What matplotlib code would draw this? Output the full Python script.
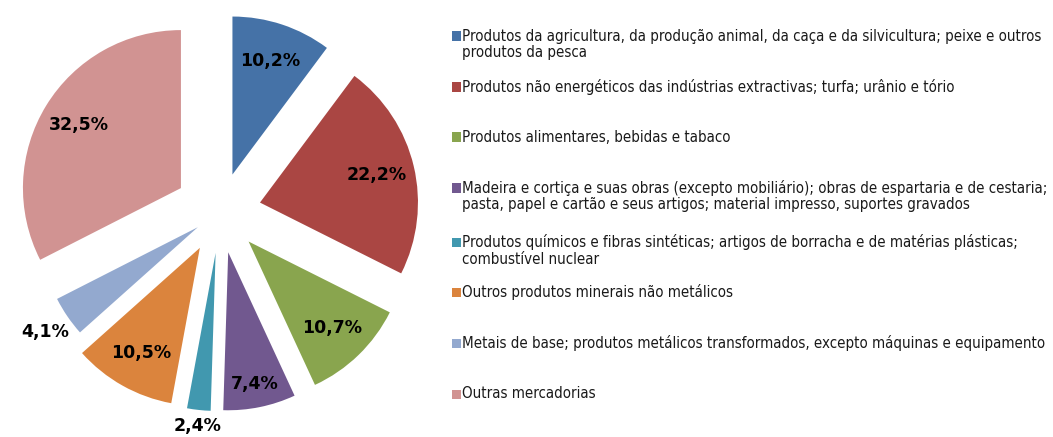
import numpy as np
import matplotlib
matplotlib.use("Agg")
import matplotlib.pyplot as plt
from matplotlib.patches import Rectangle

# Data
categories = [
    "Produtos da agricultura, da produção animal, da caça e da silvicultura; peixe e outros\nprodutos da pesca",
    "Produtos não energéticos das indústrias extractivas; turfa; urânio e tório",
    "Produtos alimentares, bebidas e tabaco",
    "Madeira e cortiça e suas obras (excepto mobiliário); obras de espartaria e de cestaria;\npasta, papel e cartão e seus artigos; material impresso, suportes gravados",
    "Produtos químicos e fibras sintéticas; artigos de borracha e de matérias plásticas;\ncombustível nuclear",
    "Outros produtos minerais não metálicos",
    "Metais de base; produtos metálicos transformados, excepto máquinas e equipamento",
    "Outras mercadorias",
]
shares = [10.2, 22.2, 10.7, 7.4, 2.4, 10.5, 4.1, 32.5]
colors = ["#4572A7", "#AA4643", "#89A54E", "#71588F", "#4198AF", "#DB843D", "#93A9CF", "#D19392"]

# Layout
W, H = 1053, 437
explode = [0.25, 0.26, 0.26, 0.26, 0.26, 0.26, 0.17, 0.29]
label_dist = [0.76, 0.76, 0.76, 0.85, 1.1, 0.76, 1.17, 0.76]
legend_y = [36, 87, 137, 188, 242, 292, 343, 394]   # first-line centre, px from top
line_gap = 17

fig = plt.figure(figsize=(W / 100, H / 100), dpi=100)
ax = fig.add_axes([0, 0, 440 / W, 1])

wedges, _ = ax.pie(shares, colors=colors, startangle=90, counterclock=False,
                   explode=explode, radius=1.0,
                   wedgeprops=dict(linewidth=0))
ax.set_xlim(-1.392, 1.392)
ax.set_ylim(-1.424, 1.342)

# percentage labels
for w, v, d in zip(wedges, shares, label_dist):
    ang = np.deg2rad((w.theta1 + w.theta2) / 2)
    cx, cy = w.center
    ax.text(cx + d * np.cos(ang), cy + d * np.sin(ang),
            f"{v:.1f}%".replace(".", ","), ha="center", va="center",
            fontsize=12.5, fontweight="bold", color="black")

# legend
for lab, col, y in zip(categories, colors, legend_y):
    fig.patches.append(Rectangle((452 / W, 1 - (y + 4.5) / H), 9 / W, 9 / H,
                                 transform=fig.transFigure, facecolor=col,
                                 edgecolor="none"))
    for i, line in enumerate(lab.split("\n")):
        fig.text(462 / W, 1 - (y + i * line_gap) / H, line, ha="left", va="center",
                 fontsize=10.8, family="DejaVu Sans", fontstretch="condensed",
                 color="#1a1a1a")

fig.savefig("out.png", dpi=100)
